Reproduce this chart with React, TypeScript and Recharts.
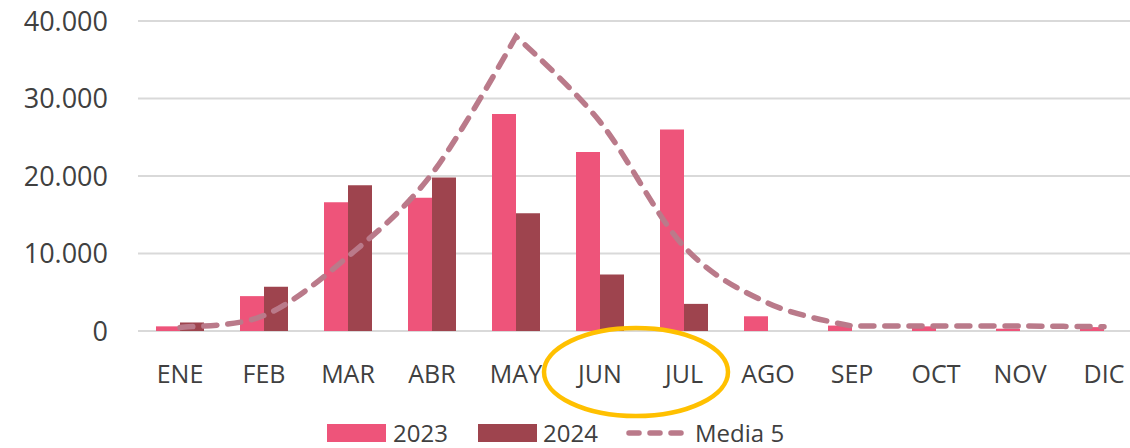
import { Bar, Line, XAxis, YAxis, CartesianGrid, Legend, ComposedChart } from "recharts";

const months = ["ENE", "FEB", "MAR", "ABR", "MAY", "JUN", "JUL", "AGO", "SEP", "OCT", "NOV", "DIC"];
const values2023 = [600, 4500, 16600, 17200, 28000, 23100, 26000, 1900, 700, 600, 300, 500];
const values2024: (number | null)[] = [1100, 5700, 18800, 19800, 15200, 7300, 3500, null, null, null, null, null];
const media5 = [450, 2000, 9600, 20300, 38000, 27000, 10900, 3600, 650, 650, 650, 550];
const yTicks = [0, 10000, 20000, 30000, 40000];

const data = months.map((m, i) => ({
  month: m,
  y2023: values2023[i],
  y2024: values2024[i],
  media: media5[i],
}));

const PINK = "#EE547A";
const WINE = "#9E444E";
const MAUVE = "#BA7A8A";
const TEXT = "#404040";
const FONT = "'Open Sans', sans-serif";

// smoothing through the points; the tangent is dropped at peaks / flats so they don't overshoot
const K = 1 / 6;
const smoothCurve = (context: any) => {
  let xs: number[] = [];
  let ys: number[] = [];
  const tangent = (i: number, n: number) => {
    const a = Math.max(i - 1, 0);
    const b = Math.min(i + 1, n - 1);
    if (i > 0 && i < n - 1) {
      const d1 = ys[i] - ys[a];
      const d2 = ys[b] - ys[i];
      if (d1 * d2 <= 0) return [0, 0];
    }
    return [(xs[b] - xs[a]) * K, (ys[b] - ys[a]) * K];
  };
  return {
    areaStart() {},
    areaEnd() {},
    lineStart() {
      xs = [];
      ys = [];
    },
    point(x: number, y: number) {
      xs.push(+x);
      ys.push(+y);
    },
    lineEnd() {
      const n = xs.length;
      if (!n) return;
      context.moveTo(xs[0], ys[0]);
      for (let i = 0; i < n - 1; i++) {
        const t1 = tangent(i, n);
        const t2 = tangent(i + 1, n);
        context.bezierCurveTo(
          xs[i] + t1[0],
          ys[i] + t1[1],
          xs[i + 1] - t2[0],
          ys[i + 1] - t2[1],
          xs[i + 1],
          ys[i + 1]
        );
      }
    },
  };
};

const fmt = (v: number) => v.toString().replace(/\B(?=(\d{3})+(?!\d))/g, ".");

const renderLegend = () => (
  <div
    style={{
      display: "flex",
      alignItems: "center",
      height: 24,
      lineHeight: "24px",
      fontFamily: FONT,
      fontSize: 24,
      color: TEXT,
    }}
  >
    <span style={{ width: 59, height: 18, background: PINK, marginRight: 7 }} />
    <span style={{ display: "inline-block", width: 85 }}>2023</span>
    <span style={{ width: 59, height: 18, background: WINE, marginRight: 6 }} />
    <span style={{ display: "inline-block", width: 83 }}>2024</span>
    <svg width={58} height={18} style={{ marginRight: 11 }}>
      <line x1={3} y1={9} x2={56} y2={9} stroke={MAUVE} strokeWidth={5.5} strokeDasharray="10 11" strokeLinecap="round" />
    </svg>
    <span>Media 5</span>
  </div>
);

export default function App() {
  return (
    <div style={{ position: "absolute", left: 0, top: 0, width: 1130, height: 448, overflow: "hidden", background: "#fff" }}>
      <ComposedChart
        width={1150}
        height={448}
        data={data}
        margin={{ top: 21, right: 4, bottom: 0, left: 0 }}
        barGap={0}
        barCategoryGap={18}
      >
        <CartesianGrid vertical={false} stroke="#d9d9d9" strokeWidth={2} />
        <XAxis
          dataKey="month"
          axisLine={false}
          tickLine={false}
          tickSize={0}
          tickMargin={34}
          height={93}
          interval={0}
          tick={{ fill: TEXT, fontSize: 25, fontFamily: FONT }}
        />
        <YAxis
          domain={[0, 40000]}
          ticks={yTicks}
          tickFormatter={fmt}
          axisLine={false}
          tickLine={false}
          tickSize={0}
          tickMargin={30}
          width={138}
          tick={{ fill: TEXT, fontSize: 27, fontFamily: FONT }}
        />
        <Legend
          verticalAlign="bottom"
          content={renderLegend}
          wrapperStyle={{ left: 327, bottom: 3, width: 480, height: 24 }}
        />
        <Bar dataKey="y2023" name="2023" fill={PINK} barSize={24} isAnimationActive={false} />
        <Bar dataKey="y2024" name="2024" fill={WINE} barSize={24} isAnimationActive={false} />
        <Line
          dataKey="media"
          name="Media 5"
          type={smoothCurve as any}
          stroke={MAUVE}
          strokeWidth={5.5}
          strokeDasharray="13 11"
          strokeLinecap="round"
          dot={false}
          activeDot={false}
          isAnimationActive={false}
        />
      </ComposedChart>
      <svg width={1130} height={448} style={{ position: "absolute", left: 0, top: 0, pointerEvents: "none" }}>
        <ellipse cx={636} cy={372} rx={92} ry={44} fill="none" stroke="#FFC000" strokeWidth={4.5} />
      </svg>
    </div>
  );
}
